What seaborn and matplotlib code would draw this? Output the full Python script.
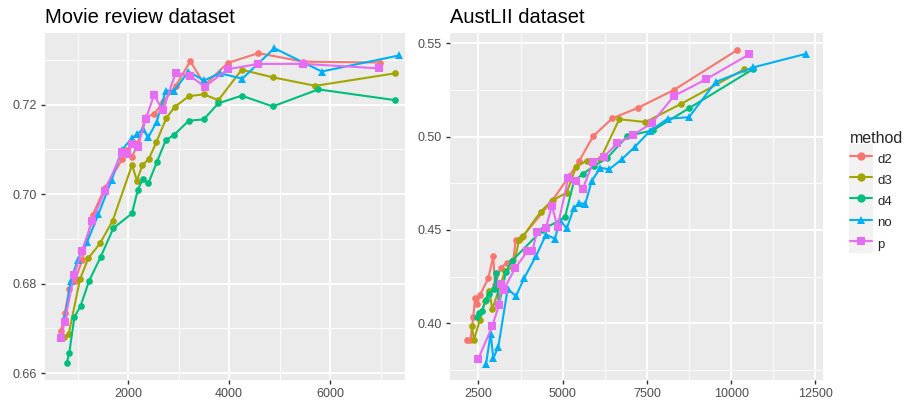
import matplotlib
matplotlib.use("Agg")
import matplotlib.pyplot as plt
import pandas as pd
import seaborn as sns
from matplotlib.patches import Rectangle
from matplotlib.ticker import FixedLocator, FormatStrFormatter

methods = ["d2", "d3", "d4", "no", "p"]
colors = ["#F8766D", "#A3A500", "#00BF7D", "#00B0F6", "#E76BF3"]
marker_shapes = ["o", "o", "o", "^", "s"]

# ---------------- Movie review dataset ----------------
movie_d2_x = [673, 746, 838, 944, 1089, 1301, 1538, 1886, 1986, 2085, 2192, 2350, 2520, 2690,
              2944, 3233, 3519, 3974, 4580, 5471, 6989]
movie_d2_y = [0.6695, 0.6734, 0.6788, 0.6805, 0.6852, 0.6954, 0.7013, 0.7078, 0.7099, 0.7084,
              0.7114, 0.7172, 0.7179, 0.7205, 0.7242, 0.7297, 0.7244, 0.7293, 0.7315, 0.7296, 0.7294]

movie_d3_x = [732, 826, 1049, 1214, 1445, 1697, 2079, 2178, 2283, 2410, 2560, 2758, 2924, 3208,
              3499, 3788, 4251, 4865, 5708, 7292]
movie_d3_y = [0.6680, 0.6688, 0.6810, 0.6857, 0.6890, 0.6941, 0.7065, 0.7030, 0.7065, 0.7078,
              0.7116, 0.7170, 0.7195, 0.7219, 0.7223, 0.7210, 0.7278, 0.7261, 0.7242, 0.7270]

movie_d4_x = [786, 837, 937, 1063, 1228, 1459, 1709, 2079, 2192, 2291, 2402, 2568, 2746, 2917,
              3202, 3499, 3788, 4251, 4865, 5768, 7292]
movie_d4_y = [0.6622, 0.6646, 0.6725, 0.6751, 0.6806, 0.6860, 0.6924, 0.6957, 0.7009, 0.7034,
              0.7024, 0.7071, 0.7120, 0.7133, 0.7164, 0.7167, 0.7203, 0.7220, 0.7196, 0.7234, 0.7210]

movie_no_x = [752, 865, 1004, 1194, 1412, 1677, 1875, 2073, 2184, 2291, 2402, 2568, 2746, 2917,
              3194, 3505, 3821, 4263, 4897, 5835, 7372]
movie_no_y = [0.6725, 0.6807, 0.6853, 0.6894, 0.6955, 0.7032, 0.7098, 0.7125, 0.7134, 0.7145,
              0.7127, 0.7162, 0.7231, 0.7231, 0.7274, 0.7254, 0.7270, 0.7258, 0.7326, 0.7274, 0.7310]

movie_p_x = [673, 746, 931, 1083, 1293, 1538, 1887, 1986, 2085, 2192, 2350, 2515, 2687, 2944,
             3233, 3518, 3974, 4580, 5471, 6976]
movie_p_y = [0.6678, 0.6715, 0.6820, 0.6872, 0.6940, 0.7007, 0.7095, 0.7090, 0.7112, 0.7106,
             0.7167, 0.7222, 0.7187, 0.7271, 0.7264, 0.7240, 0.7279, 0.7291, 0.7291, 0.7281]

# ---------------- AustLII dataset ----------------
aust_d2_x = [2170, 2262, 2345, 2396, 2455, 2544, 2791, 2939, 2990, 3159, 3355, 3533, 3604, 3792,
             4703, 5196, 5493, 5908, 6473, 7245, 8304, 10184]
aust_d2_y = [0.3909, 0.3909, 0.4035, 0.4134, 0.4105, 0.4152, 0.4241, 0.4360, 0.4205, 0.4298,
             0.4325, 0.4339, 0.4446, 0.4461, 0.4660, 0.4789, 0.4871, 0.5003, 0.5098, 0.5155,
             0.5250, 0.5464]

aust_d3_x = [2298, 2366, 2544, 2693, 2821, 2910, 3287, 3533, 3702, 3830, 4347, 4682, 5118, 5394,
             5712, 6116, 6680, 7458, 8512, 10392]
aust_d3_y = [0.3987, 0.3912, 0.4020, 0.4120, 0.4173, 0.4075, 0.4280, 0.4300, 0.4446, 0.4468,
             0.4598, 0.4657, 0.4700, 0.4837, 0.4871, 0.4879, 0.5093, 0.5078, 0.5175, 0.5361]

aust_d4_x = [2446, 2515, 2595, 2723, 2812, 2960, 3019, 3108, 3316, 3494, 4394, 5068, 5335, 5594,
             5929, 6324, 6918, 7681, 8750, 10659]
aust_d4_y = [0.4035, 0.4057, 0.4066, 0.4125, 0.4157, 0.4182, 0.4268, 0.4098, 0.4277, 0.4335,
             0.4500, 0.4568, 0.4762, 0.4799, 0.4843, 0.4886, 0.5003, 0.5034, 0.5152, 0.5362]

aust_no_x = [2723, 2862, 2939, 3088, 3367, 3613, 3860, 4207, 4504, 4771, 4919, 5118, 5329, 5493,
             5671, 5861, 6116, 6383, 6752, 7146, 7592, 8117, 8750, 9543, 10659, 12215]
aust_no_y = [0.3780, 0.3945, 0.3813, 0.3873, 0.4185, 0.4145, 0.4244, 0.4360, 0.4475, 0.4453,
             0.4553, 0.4508, 0.4616, 0.4643, 0.4640, 0.4762, 0.4833, 0.4825, 0.4878, 0.4946,
             0.5030, 0.5096, 0.5104, 0.5293, 0.5371, 0.5443]

aust_p_x = [2494, 2910, 3108, 3174, 3248, 3593, 3955, 4103, 4228, 4504, 4682, 4846, 5166, 5395,
            5594, 5908, 6226, 6621, 7078, 7642, 8304, 9255, 10540]
aust_p_y = [0.3810, 0.3985, 0.4098, 0.4208, 0.4180, 0.4297, 0.4386, 0.4389, 0.4487, 0.4513,
            0.4631, 0.4515, 0.4780, 0.4760, 0.4719, 0.4866, 0.4893, 0.4964, 0.5008, 0.5071,
            0.5218, 0.5307, 0.5441]

movie_x = [movie_d2_x, movie_d3_x, movie_d4_x, movie_no_x, movie_p_x]
movie_y = [movie_d2_y, movie_d3_y, movie_d4_y, movie_no_y, movie_p_y]
aust_x = [aust_d2_x, aust_d3_x, aust_d4_x, aust_no_x, aust_p_x]
aust_y = [aust_d2_y, aust_d3_y, aust_d4_y, aust_no_y, aust_p_y]


def long_frame(xs, ys):
    parts = [pd.DataFrame({"n": x, "acc": y, "method": m}) for m, x, y in zip(methods, xs, ys)]
    return pd.concat(parts, ignore_index=True)


movie_df = long_frame(movie_x, movie_y)
aust_df = long_frame(aust_x, aust_y)

sns.set_theme(style="darkgrid", rc={"axes.facecolor": "#EBEBEB", "grid.color": "white"})
plt.rcParams["font.family"] = ["Liberation Sans", "DejaVu Sans"]

W, H = 906, 403
fig = plt.figure(figsize=(W / 100, H / 100), dpi=100)
fig.patch.set_facecolor("white")
top_px, bot_px = 33, 379.5
ax1 = fig.add_axes([45 / W, (H - bot_px) / H, 360 / W, (bot_px - top_px) / H])
ax2 = fig.add_axes([450 / W, (H - bot_px) / H, 372.7 / W, (bot_px - top_px) / H])

palette = dict(zip(methods, colors))
markers = dict(zip(methods, marker_shapes))
msize = {"o": 4.8, "^": 6.2, "s": 5.4}

panels = [
    (ax1, movie_df, "Movie review dataset", (356, 7484), (0.6586, 0.7360),
     [2000, 4000, 6000], [1000, 3000, 5000, 7000],
     [0.66, 0.68, 0.70, 0.72], [0.67, 0.69, 0.71, 0.73]),
    (ax2, aust_df, "AustLII dataset", (1654, 12720), (0.3699, 0.5555),
     [2500, 5000, 7500, 10000, 12500], [3750, 6250, 8750, 11250],
     [0.40, 0.45, 0.50, 0.55], [0.375, 0.425, 0.475, 0.525]),
]

for ax, df, title, xl, yl, xmaj, xmin, ymaj, ymin in panels:
    sns.lineplot(data=df, x="n", y="acc", hue="method", style="method",
                 hue_order=methods, style_order=methods, palette=palette,
                 markers=markers, dashes=False, estimator=None, sort=True,
                 linewidth=1.5, markeredgewidth=0, ax=ax, legend=(ax is ax1))
    for ln in ax.lines:
        mk = ln.get_marker()
        if mk in msize:
            ln.set_markersize(msize[mk])
    ax.set_xlim(*xl)
    ax.set_ylim(*yl)
    ax.xaxis.set_major_locator(FixedLocator(xmaj))
    ax.xaxis.set_minor_locator(FixedLocator(xmin))
    ax.yaxis.set_major_locator(FixedLocator(ymaj))
    ax.yaxis.set_minor_locator(FixedLocator(ymin))
    ax.yaxis.set_major_formatter(FormatStrFormatter("%.2f"))
    ax.grid(which="major", color="white", linewidth=1.3)
    ax.grid(which="minor", color="white", linewidth=0.6)
    ax.set_axisbelow(True)
    ax.tick_params(which="major", length=3, width=1.0, color="#333333",
                   labelcolor="#4D4D4D", labelsize=9, pad=3,
                   bottom=True, left=True)
    ax.tick_params(which="minor", length=0)
    for s in ax.spines.values():
        s.set_visible(False)
    ax.set_xlabel("")
    ax.set_ylabel("")
    ax.set_title(title, loc="left", fontsize=14.5, color="black", pad=7)

old = ax1.get_legend()
handles = list(old.legend_handles)
labels = [t.get_text() for t in old.get_texts()]
old.remove()

fs = 9.5
leg = fig.legend(handles, labels, title="method", loc="upper left",
                 bbox_to_anchor=(845 / W, (H - 126) / H), frameon=False,
                 fontsize=fs, title_fontsize=11.5, handlelength=1.65,
                 handleheight=1.8, labelspacing=0.2, handletextpad=0.4,
                 borderaxespad=0, alignment="left")

fig.canvas.draw()
renderer = fig.canvas.get_renderer()
for h in leg.legend_handles:
    bb = h.get_window_extent(renderer)
    cx, cy = (bb.x0 + bb.x1) / 2, (bb.y0 + bb.y1) / 2
    rect = Rectangle(((cx - 12) / W, (cy - 12) / H), 24 / W, 24 / H,
                     transform=fig.transFigure, facecolor="#F2F2F2",
                     edgecolor="none", zorder=0.5)
    fig.add_artist(rect)

fig.savefig("out.png", dpi=100)
